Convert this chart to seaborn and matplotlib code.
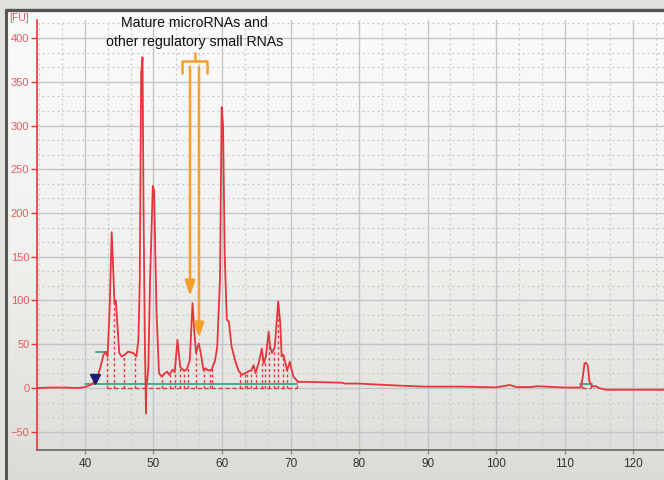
import numpy as np
import pandas as pd
import matplotlib
matplotlib.use("Agg")
import matplotlib.pyplot as plt
import seaborn as sns
from matplotlib.colors import LinearSegmentedColormap

# ---- data ----
size_nt = [33, 35, 37, 39, 40, 41, 41.8, 42.3, 42.7, 43.0, 43.3, 43.6, 43.9, 44.15, 44.3, 44.5, 45.0,
           45.35, 45.8, 46.3, 47.05, 47.5, 47.8, 48.0, 48.2, 48.4, 48.55, 48.75, 48.85, 48.9, 48.95, 49.1,
           49.25, 49.5, 49.9, 50.1, 50.25, 50.45, 50.8, 51.2, 51.7, 52.0, 52.3, 52.8, 53.1, 53.5, 53.9,
           54.4, 54.85, 55.3, 55.7, 55.95, 56.2, 56.6, 56.9, 57.3, 57.6, 58.0, 58.5, 59.0, 59.3,
           59.7, 59.95, 60.15, 60.4, 60.7, 61.0, 61.4, 61.9, 62.4, 62.9, 63.4, 63.85, 64.3, 64.6, 64.9,
           65.4, 65.8, 66.1, 66.4, 66.8, 67.0, 67.3, 67.7, 68.0, 68.2, 68.5, 68.7, 68.95, 69.2,
           69.5, 69.9, 70.4, 71.1, 72, 75, 77.5, 78, 80, 85, 88, 90, 95, 100, 102, 103, 105, 106,
           110, 112.3, 112.6, 112.9, 113.1, 113.4, 113.6, 114, 114.6, 115, 116, 120, 124.5]
fluorescence = [0, 0.5, 0.5, 0, 1, 4, 12, 25, 38, 41, 36, 90, 178, 130, 97, 100, 40,
                36, 38, 41.5, 40, 36, 55, 123, 360, 378, 200, 47, 0, -29, 0, 10,
                24, 123, 231, 225, 160, 85, 17, 13, 17, 18.6, 15, 21, 18, 55, 24,
                20, 21, 32, 97, 66, 40, 51, 40, 20, 22.5, 20, 21, 32, 47,
                123, 321, 300, 150, 78, 76, 47, 32, 20, 15, 17, 19, 20.6, 26, 17,
                30, 45, 28, 36, 64, 47, 40, 47, 78, 99, 74, 36, 38, 30,
                20, 30, 13, 7, 7, 6.5, 6, 5, 5, 3, 2, 1.5, 1.5, 0.7, 3.4, 1, 1, 2,
                0.5, 0.5, 10, 28, 29, 25, 8, 2, 2, 0, -2, -2, -2]

peak_bounds = [43.2, 44.3, 45.7, 47.3, 51.3, 52.4, 53.1, 53.9, 54.4, 55.0, 56.2, 57.4, 58.2,
               58.6, 62.6, 63.3, 63.7, 64.3, 65.0, 65.9, 66.2, 66.8, 67.6, 68.1, 68.9, 69.5, 70.9,
               112.5, 113.8]

x_ticks = [40, 50, 60, 70, 80, 90, 100, 110, 120]
y_ticks = [-50, 0, 50, 100, 150, 200, 250, 300, 350, 400]

annotation_text = "Mature microRNAs and\nother regulatory small RNAs"
arrow_x = [55.33, 56.64]
arrow_tip_y = [105, 57]

df = pd.DataFrame({"size": size_nt, "FU": fluorescence})

sns.set_style("white")
plt.rcParams["font.family"] = ["Liberation Sans", "DejaVu Sans"]

W, H = 664, 480
fig = plt.figure(figsize=(W / 100, H / 100), dpi=100)
fig.patch.set_facecolor("#e2e2de")

# background panel with vertical gradient
bg = fig.add_axes([7 / W, 0, 1 - 7 / W, (H - 11) / H], zorder=0)
grad = np.linspace(0, 1, 256).reshape(-1, 1)
cmap = LinearSegmentedColormap.from_list("g", ["#fbfbfb", "#f1f1ef", "#dcdcd7"])
bg.imshow(grad, aspect="auto", cmap=cmap, extent=[0, 1, 0, 1], origin="upper")
bg.set_axis_off()
fig.add_artist(plt.Line2D([6 / W, 6 / W], [0, (H - 10) / H], color="#555555", lw=2.2, transform=fig.transFigure))
fig.add_artist(plt.Line2D([6 / W, 1], [(H - 10) / H, (H - 10) / H], color="#555555", lw=2.4, transform=fig.transFigure))

ax = fig.add_axes([37 / W, 30 / H, (W - 37) / W, (450 - 20) / H], zorder=2)
ax.set_facecolor("none")

red = "#e8343c"
pink = "#ec5a62"

sns.lineplot(data=df, x="size", y="FU", ax=ax, color=red, lw=1.3, estimator=None, sort=False, zorder=5)

# baselines and peak boundaries
ax.plot([40.0, 71.0], [4.6, 4.6], color="#3aa58a", lw=1.3, zorder=3)
ax.plot([41.6, 43.2], [41, 41], color="#3aa58a", lw=1.3, zorder=3)
ax.plot([112.3, 114.0], [4, 4], color="#3aa58a", lw=1.3, zorder=3)
ax.plot([43.2, 71.0], [0, 0], color=red, lw=1.0, ls=(0, (3, 2)), zorder=4)
ax.plot([112.5, 113.8], [0, 0], color=red, lw=1.0, ls=(0, (3, 2)), zorder=4)
for xb in peak_bounds:
    yb = np.interp(xb, size_nt, fluorescence)
    ax.plot([xb, xb], [0, yb], color=red, lw=1.0, ls=(0, (2, 2)), zorder=4)
ax.plot([41.4], [10], marker="v", color="#1c1c70", ms=7, zorder=6)

ax.set_xlim(33.0, 124.5)
ax.set_ylim(-70.9, 420.6)
ax.set_xticks(x_ticks)
ax.set_yticks(y_ticks)
ax.set_xticks(np.arange(33 + 1 / 3, 124.5, 10 / 3), minor=True)
ax.set_yticks(np.arange(-50, 420, 50 / 3), minor=True)
ax.grid(True, which="major", color="#c2c6cc", lw=1.0, zorder=0)
ax.grid(True, which="minor", color="#c8c8c8", lw=0.9, ls=(0, (1.5, 2.5)), zorder=0)
ax.set_axisbelow(True)
ax.set_xlabel("")
ax.set_ylabel("")

for s in ["top", "right"]:
    ax.spines[s].set_visible(False)
ax.spines["left"].set_color(red)
ax.spines["left"].set_linewidth(1.2)
ax.spines["bottom"].set_color("#666666")
ax.spines["bottom"].set_linewidth(1.2)
ax.tick_params(axis="y", which="major", colors=red, labelcolor=pink, labelsize=8, length=4.5, width=1,
               direction="out", left=True, pad=1)
ax.tick_params(axis="x", which="major", colors="#888888", labelcolor="#333333", labelsize=8.5, length=3,
               width=1, direction="out", bottom=True, pad=3)
ax.tick_params(which="minor", length=0)

fig.text(9 / W, (H - 18) / H, "[FU]", color=pink, fontsize=7.5, va="center", ha="left")

# annotation
ax.text(56.0, 406, annotation_text, ha="center", va="center", fontsize=10.2, color="#111111",
        family=["Liberation Sans Narrow", "Liberation Sans", "DejaVu Sans"], linespacing=1.45,
        clip_on=False, zorder=7)
orange = "#f5a028"
ax.plot([54.1, 54.1, 57.75, 57.75], [360, 373.7, 373.7, 360], color=orange, lw=1.8, zorder=7, clip_on=False)
ax.plot([56.0, 56.0], [373.7, 383], color=orange, lw=1.8, zorder=7, clip_on=False)
for xa, ya in zip(arrow_x, arrow_tip_y):
    ax.annotate("", xy=(xa, ya), xytext=(xa, 367),
                arrowprops=dict(arrowstyle="-|>,head_length=0.9,head_width=0.3", color=orange, lw=1.8,
                                shrinkA=0, shrinkB=0), zorder=7)

fig.savefig("out.png", dpi=100)
